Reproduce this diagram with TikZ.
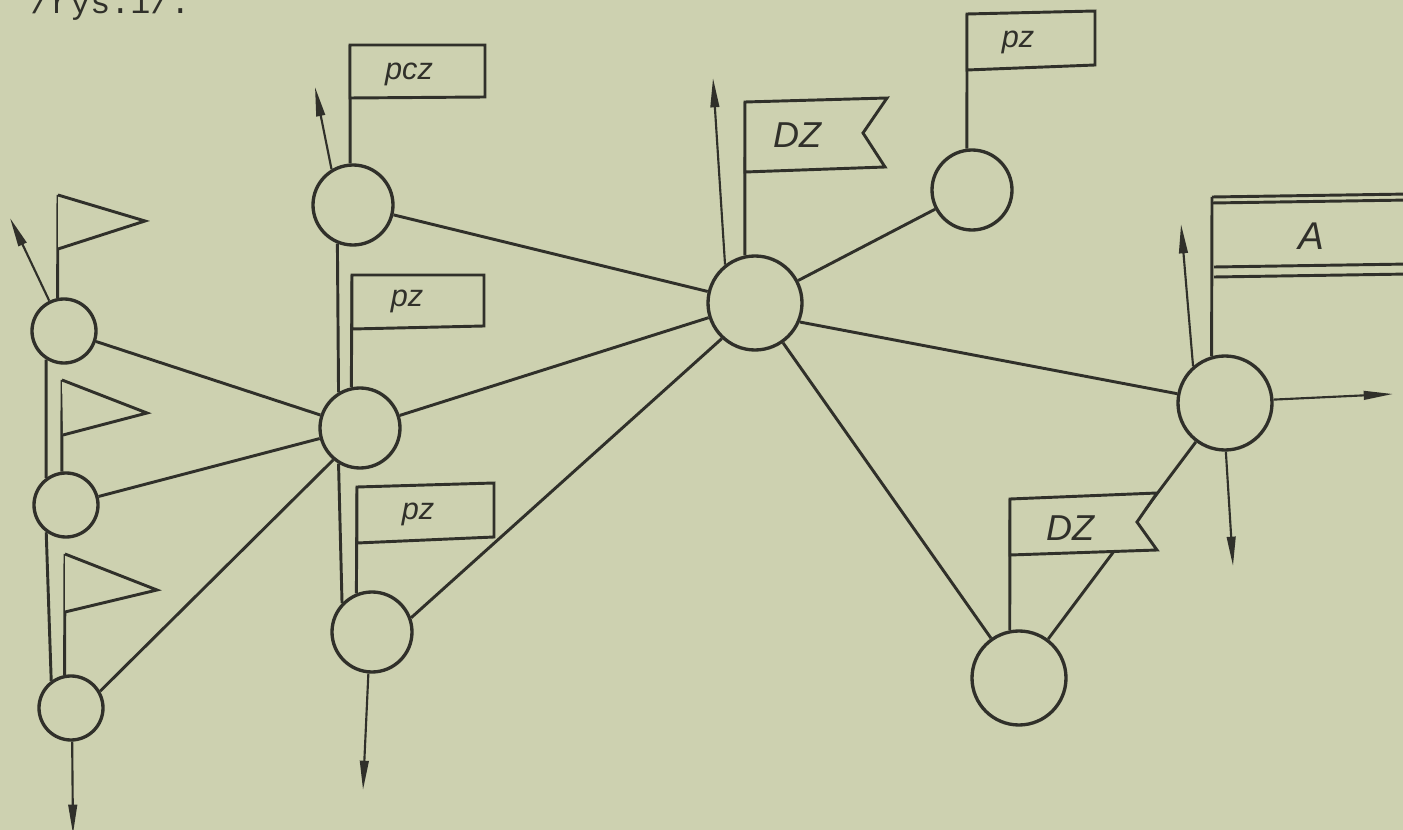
\documentclass[tikz,border=0pt]{standalone}
\usepackage{xcolor}
\usepackage{fontspec}
\newfontfamily\flagfont{Liberation Sans}
\newfontfamily\typefont{Liberation Mono}
\usetikzlibrary{arrows.meta}
\definecolor{paper}{RGB}{205,209,176}
\definecolor{ink}{RGB}{48,48,42}

\begin{document}
\begin{tikzpicture}[x=0.75pt,y=0.75pt,yscale=-1,xscale=1,
  station/.style={circle,draw=ink,line width=2.5pt,inner sep=0pt,minimum size=60pt},
  minor/.style={station,minimum size=48pt},
  hub/.style={station,minimum size=70.5pt},
  link/.style={draw=ink,line width=2.2pt},
  exitarrow/.style={draw=ink,line width=1.6pt,-{Triangle[length=22pt,width=6.5pt]}},
  flagline/.style={draw=ink,line width=2.2pt,fill=paper,line join=miter},
  lbl/.style={text=ink,anchor=base,inner sep=0pt,font=\flagfont\itshape\fontsize{23}{25}\selectfont},
  biglbl/.style={lbl,font=\flagfont\itshape\fontsize{27}{30}\selectfont}]

%Background
\fill[paper] (0,0) rectangle (1403,830);
\useasboundingbox (0,0) rectangle (1403,830);

% Text Node
\node[anchor=base west,inner sep=0pt,text=ink,font=\typefont\fontsize{25}{28}\selectfont] (caption) at (30,14) {/rys.1/.};

%Shape: Circle
\node[minor] (l1) at (64,331) {};
\node[minor] (l2) at (66,505) {};
\node[minor] (l3) at (71,708) {};
%Shape: Circle
\node[station] (m0) at (353,205) {};
\node[station] (m1) at (360,428) {};
\node[station] (m2) at (372,632) {};
%Shape: Circle
\node[hub] (h) at (755,303) {};
\node[station] (tr) at (972,190) {};
\node[hub] (r) at (1225,403) {};
\node[hub] (b) at (1019,678) {};

%Straight Lines
\draw[link] (l1) -- (m1);
\draw[link] (l2) -- (m1);
\draw[link] (l3.30) -- (m1.230);
\draw[link] (l1.238) -- (l2.126);
\draw[link] (l2.234) -- (l3.126);
\draw[link] (m0.248) -- (m1.121);
\draw[link] (m1.239) -- (m2.136);
\draw[link] (m0) -- (h);
\draw[link] (m1) -- (h);
\draw[link] (m2.20) -- (h.227);
\draw[link] (h) -- (tr);
\draw[link] (h.-23) -- (r.169);
\draw[link] (h) -- (b);
\draw[link] (r) -- (b);

%Flag tops
\coordinate (pennA) at (58,195);
\coordinate (pennB) at (62,380);
\coordinate (pennC) at (65,554);
\coordinate (pcztop) at (350,45);
\coordinate (pzAtop) at (352,275);
\coordinate (pzBtop) at (357,487);
\coordinate (pzCtop) at (967,14);
\coordinate (dzAtop) at (745,102);
\coordinate (dzBtop) at (1010,499);
\coordinate (atop) at (1212,197);

%Poles
\draw[link] (l1.101) -- (pennA);
\draw[link] (l2.97) -- (pennB);
\draw[link] (l3.101) -- (pennC);
\draw[link] (m0.94) -- (pcztop);
\draw[link] (m1.102) -- (pzAtop);
\draw[link] (m2.112) -- (pzBtop);
\draw[link] (tr.97) -- (pzCtop);
\draw[link] (h.102) -- (dzAtop);
\draw[link] (b.101) -- (dzBtop);
\draw[link] (r.106) -- (atop);

%Shape: Flags
\draw[flagline] (pennA) -- (145,221) -- (58,249);
\draw[flagline] (pennB) -- (147,413) -- (63,435);
\draw[flagline] (pennC) -- (157,590) -- (65,612);
\draw[flagline] (pcztop) -- (485,45) -- (485,97) -- (350,98) -- cycle;
\draw[flagline] (pzAtop) -- (484,275) -- (484,326) -- (352,329) -- cycle;
\draw[flagline] (pzBtop) -- (494,483) -- (494,537) -- (357,543) -- cycle;
\draw[flagline] (pzCtop) -- (1095,11) -- (1095,65) -- (967,70) -- cycle;
\draw[flagline] (dzAtop) -- (887,98) -- (863,133) -- (885,167) -- (745,172) -- cycle;
\draw[flagline] (dzBtop) -- (1157,493) -- (1137,522) -- (1157,550) -- (1010,555) -- cycle;
\draw[link] (atop) -- (1410,194);
\draw[link] (1212,203) -- (1410,200);
\draw[link] (1214,267) -- (1410,264);
\draw[link] (1214,277) -- (1410,274);

% Text Node
\node[lbl] (pcz) at (409,80) {pcz};
\node[lbl] (pzA) at (407,307) {pz};
\node[lbl] (pzB) at (418,519) {pz};
\node[lbl] (pzC) at (1018,48) {pz};
\node[biglbl] (dzA) at (797,148) {DZ};
\node[biglbl] (dzB) at (1070,540) {DZ};
\node[biglbl,font=\flagfont\itshape\fontsize{29}{32}\selectfont] (a) at (1311,250) {A};

%Arrows
\coordinate (l1up) at (10,218);
\coordinate (l3down) at (73,834);
\coordinate (m0up) at (315,87);
\coordinate (m2down) at (363,790);
\coordinate (hup) at (713,78);
\coordinate (rup) at (1181,224);
\coordinate (rright) at (1393,394);
\coordinate (rdown) at (1233,566);
\draw[exitarrow] (l1.116) -- (l1up);
\draw[exitarrow] (l3.272) -- (l3down);
\draw[exitarrow] (m0.121) -- (m0up);
\draw[exitarrow] (m2.265) -- (m2down);
\draw[exitarrow] (h.128) -- (hup);
\draw[exitarrow] (r.131) -- (rup);
\draw[exitarrow] (r.4) -- (rright);
\draw[exitarrow] (r.271) -- (rdown);

\end{tikzpicture}
\end{document}
